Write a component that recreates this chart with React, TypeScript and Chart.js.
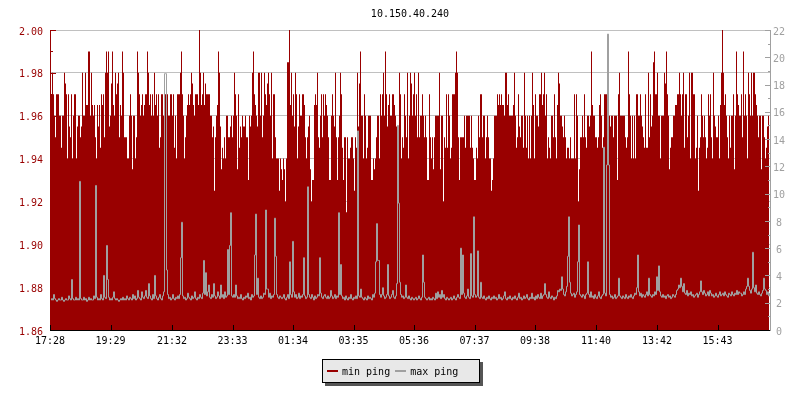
import React, { useEffect, useRef } from 'react';
import { Chart, registerables } from 'chart.js';

Chart.register(...registerables);

// ---------- data ----------
const chartTitle = '10.150.40.240';
const sampleMinutes = 2; // one sample every 2 minutes, starting 17:28
const spanMinutes = 1440;
const timeTickMinutes = [0, 121, 244, 365, 486, 607, 728, 849, 970, 1092, 1214, 1335];
const timeTickLabels = ['17:28', '19:29', '21:32', '23:33', '01:34', '03:35', '05:36', '07:37', '09:38', '11:40', '13:42', '15:43'];
const seriesNames = ['min ping', 'max ping'];

// min ping, 17:28 - 01:24
const minPingA = [
  1.97, 1.97, 1.98, 1.97, 1.96, 1.95, 1.97, 1.97, 1.97, 1.96,
  1.96, 1.945, 1.96, 1.96, 1.98, 1.975, 1.97, 1.94, 1.97, 1.955,
  1.95, 1.97, 1.94, 1.96, 1.97, 1.97, 1.94, 1.955, 1.96, 1.96,
  1.95, 1.955, 1.98, 1.96, 1.96, 1.98, 1.965, 1.965, 1.99, 1.99,
  1.96, 1.98, 1.965, 1.96, 1.965, 1.95, 1.94, 1.965, 1.955, 1.965,
  1.945, 1.97, 1.965, 1.97, 1.95, 1.98, 1.99, 1.98, 1.99, 1.955,
  1.96, 1.975, 1.99, 1.965, 1.96, 1.98, 1.97, 1.975, 1.98, 1.95,
  1.965, 1.96, 1.99, 1.98, 1.95, 1.95, 1.95, 1.94, 1.94, 1.96,
  1.97, 1.96, 1.935, 1.96, 1.96, 1.94, 1.95, 1.99, 1.98, 1.97,
  1.96, 1.965, 1.97, 1.96, 1.965, 1.97, 1.97, 1.99, 1.98, 1.965,
  1.97, 1.96, 1.97, 1.96, 1.98, 1.965, 1.97, 1.96, 1.97, 1.945,
  1.95, 1.97, 1.97, 1.96, 1.96, 1.97, 1.945, 1.97, 1.96, 1.96,
  1.97, 1.97, 1.96, 1.97, 1.945, 1.96, 1.94, 1.97, 1.97, 1.97,
  1.98, 1.99, 1.97, 1.96, 1.94, 1.95, 1.96, 1.965, 1.97, 1.965,
  1.97, 1.98, 1.975, 1.965, 1.96, 1.97, 1.97, 1.97, 1.965, 2.00,
  1.98, 1.965, 1.97, 1.98, 1.965, 1.975, 1.97, 1.97, 1.97, 1.97,
  1.96, 1.96, 1.95, 1.955, 1.925, 1.95, 1.96, 1.965, 1.99, 1.98,
  1.955, 1.935, 1.945, 1.94, 1.95, 1.94, 1.96, 1.96, 1.95, 1.95,
  1.955, 1.96, 1.95, 1.96, 1.98, 1.97, 1.96, 1.935, 1.97, 1.945,
  1.955, 1.95, 1.96, 1.955, 1.955, 1.96, 1.95, 1.95, 1.93, 1.96,
  1.955, 1.96, 1.98, 1.99, 1.97, 1.965, 1.96, 1.955, 1.98, 1.98,
  1.96, 1.98, 1.95, 1.96, 1.98, 1.97, 1.965, 1.975, 1.98, 1.97,
  1.96, 1.98, 1.94, 1.97, 1.97, 1.95, 1.94, 1.94, 1.94, 1.925,
  1.94, 1.935, 1.93, 1.94, 1.935, 1.92, 1.94, 1.985, 1.985,
];

// min ping, 01:26 - 09:26
const minPingB = [
  2.00, 1.965, 1.98, 1.96, 1.97, 1.955, 1.98, 1.97, 1.94, 1.955,
  1.97, 1.96, 1.96, 1.97, 1.97, 1.965, 1.95, 1.94, 1.95, 1.955,
  1.96, 1.935, 1.92, 1.93, 1.93, 1.965, 1.97, 1.965, 1.98, 1.95,
  1.945, 1.96, 1.97, 1.95, 1.97, 1.96, 1.97, 1.965, 1.96, 1.95,
  1.93, 1.93, 1.96, 1.97, 1.96, 1.955, 1.98, 1.95, 1.93, 1.95,
  1.96, 1.98, 1.97, 1.945, 1.93, 1.95, 1.95, 1.915, 1.95, 1.94,
  1.94, 1.945, 1.95, 1.95, 1.94, 1.925, 1.95, 1.945, 1.98, 1.955,
  1.975, 1.99, 1.96, 1.96, 1.94, 1.97, 1.96, 1.94, 1.945, 1.96,
  1.96, 1.96, 1.93, 1.93, 1.94, 1.935, 1.94, 1.95, 1.96, 1.96,
  1.94, 1.97, 1.96, 1.97, 1.98, 1.96, 1.99, 1.97, 1.955, 1.965,
  1.97, 1.96, 1.96, 1.97, 1.97, 1.965, 1.96, 1.955, 1.95, 1.955,
  1.98, 1.97, 1.94, 1.95, 1.945, 1.97, 1.96, 1.95, 1.98, 1.94,
  1.96, 1.98, 1.975, 1.96, 1.97, 1.98, 1.96, 1.97, 1.95, 1.98,
  1.95, 1.96, 1.96, 1.97, 1.96, 1.95, 1.96, 1.95, 1.93, 1.93,
  1.97, 1.95, 1.94, 1.95, 1.935, 1.95, 1.96, 1.96, 1.96, 1.96,
  1.98, 1.935, 1.96, 1.96, 1.92, 1.95, 1.945, 1.97, 1.945, 1.97,
  1.96, 1.94, 1.945, 1.97, 1.97, 1.97, 1.98, 1.99, 1.98, 1.95,
  1.93, 1.95, 1.95, 1.95, 1.95, 1.96, 1.945, 1.96, 1.96, 1.96,
  1.96, 1.945, 1.96, 1.945, 1.94, 1.93, 1.93, 1.945, 1.94, 1.96,
  1.95, 1.97, 1.97, 1.95, 1.96, 1.96, 1.94, 1.95, 1.96, 1.95,
  1.94, 1.94, 1.925, 1.93, 1.94, 1.96, 1.96, 1.96, 1.97, 1.965,
  1.97, 1.965, 1.97, 1.965, 1.965, 1.96, 1.98, 1.98, 1.965, 1.97,
  1.96, 1.96, 1.96, 1.96, 1.965, 1.98, 1.96, 1.945, 1.95, 1.97,
  1.955, 1.95, 1.96, 1.96, 1.945, 1.98, 1.96, 1.945, 1.96, 1.94,
  1.96,
];

// min ping, 09:28 - 17:26
const minPingC = [
  1.94, 1.96, 1.98, 1.965, 1.94, 1.97, 1.96, 1.96, 1.955, 1.97,
  1.97, 1.98, 1.965, 1.97, 1.98, 1.96, 1.97, 1.94, 1.95, 1.945,
  1.94, 1.96, 1.96, 1.95, 1.97, 1.95, 1.94, 1.965, 1.98, 1.975,
  1.96, 1.96, 1.955, 1.95, 1.96, 1.95, 1.94, 1.945, 1.945, 1.94,
  1.95, 1.94, 1.94, 1.94, 1.97, 1.94, 1.97, 1.96, 1.92, 1.935,
  1.95, 1.95, 1.96, 1.95, 1.97, 1.95, 1.945, 1.96, 1.96, 1.955,
  1.96, 1.99, 1.965, 1.96, 1.96, 1.95, 1.95, 1.945, 1.95, 1.965,
  1.97, 1.96, 1.945, 1.95, 1.97, 1.97, 1.97, 1.96, 1.955, 1.96,
  1.955, 1.96, 1.96, 1.95, 1.96, 1.96, 1.96, 1.93, 1.97, 1.98,
  1.96, 1.96, 1.96, 1.96, 1.96, 1.95, 1.945, 1.95, 1.99, 1.97,
  1.96, 1.94, 1.96, 1.94, 1.96, 1.94, 1.97, 1.97, 1.96, 1.96,
  1.97, 1.96, 1.955, 1.95, 1.945, 1.97, 1.945, 1.945, 1.98, 1.95,
  1.97, 1.955, 1.96, 1.985, 1.99, 1.97, 1.97, 1.98, 1.96, 1.96,
  1.94, 1.96, 1.96, 1.96, 1.98, 1.975, 1.99, 1.97, 1.96, 1.935,
  1.945, 1.95, 1.95, 1.96, 1.96, 1.965, 1.965, 1.97, 1.97, 1.98,
  1.97, 1.96, 1.97, 1.98, 1.945, 1.97, 1.97, 1.95, 1.96, 1.98,
  1.94, 1.98, 1.98, 1.97, 1.97, 1.94, 1.945, 1.96, 1.925, 1.945,
  1.95, 1.97, 1.96, 1.95, 1.96, 1.95, 1.94, 1.945, 1.97, 1.96,
  1.97, 1.95, 1.94, 1.98, 1.96, 1.955, 1.95, 1.95, 1.96, 1.94,
  1.965, 1.98, 2.00, 1.98, 1.965, 1.97, 1.96, 1.95, 1.94, 1.96,
  1.945, 1.96, 1.96, 1.97, 1.935, 1.96, 1.99, 1.97, 1.965, 1.96,
  1.96, 1.97, 1.95, 1.99, 1.96, 1.97, 1.96, 1.94, 1.98, 1.97,
  1.96, 1.98, 1.96, 1.98, 1.98, 1.97, 1.965, 1.96, 1.95, 1.96,
  1.96, 1.935, 1.96, 1.96, 1.95, 1.94, 1.945, 1.955, 1.96, 1.96,
];

// max ping, 17:28 - 01:26
const maxPingA = [
  2.2, 2.3, 2.2, 2.6, 2.3, 2.2, 2.1, 2.2, 2.3, 2.2, 2.2, 2.4, 2.2, 2.1, 2.2, 2.3, 2.2, 2.2, 2.5, 2.3, 2.2, 3.7, 2.3, 2.2, 2.2, 2.4, 2.2, 2.3, 2.2, 10.9,
  2.3, 2.2, 2.2, 2.4, 2.2, 2.3, 2.1, 2.2, 2.4, 2.2, 2.3, 2.2, 2.2, 2.5, 2.3, 10.6, 2.4, 2.2, 2.3, 2.2, 2.6, 2.3, 2.2, 4.0, 2.4, 2.3, 6.2, 3.7, 2.4, 2.2,
  2.3, 2.2, 2.4, 2.8, 2.3, 2.2, 2.3, 2.2, 2.1, 2.2, 2.3, 2.2, 2.4, 2.2, 2.3, 2.2, 2.5, 2.3, 2.2, 2.4, 2.3, 2.2, 2.6, 2.3, 2.5, 2.2, 2.3, 2.9, 2.4, 2.3,
  2.2, 2.8, 2.4, 2.3, 2.5, 2.9, 2.4, 2.3, 3.4, 2.5, 2.3, 2.2, 2.6, 2.3, 4.0, 2.5, 2.3, 2.2, 2.4, 2.6, 2.3, 2.2, 2.5, 2.8, 18.8, 18.8, 4.4, 2.6, 2.3, 2.4,
  2.2, 2.3, 2.6, 2.3, 2.2, 2.4, 2.3, 2.5, 2.3, 2.6, 5.3, 7.9, 2.5, 2.3, 2.4, 2.2, 2.3, 2.7, 2.4, 2.3, 2.2, 2.5, 2.3, 2.4, 2.8, 2.3, 2.2, 2.4, 2.3, 2.6,
  2.4, 2.3, 2.7, 5.1, 2.6, 4.2, 2.5, 2.8, 3.3, 2.4, 2.3, 2.6, 2.4, 3.4, 2.5, 2.3, 2.4, 2.8, 2.5, 2.3, 3.3, 2.4, 2.6, 2.3, 2.8, 2.4, 2.5, 5.9, 2.6, 6.2,
  8.6, 2.5, 2.4, 2.6, 2.4, 3.3, 2.5, 2.3, 2.4, 2.3, 2.6, 2.3, 2.2, 2.4, 2.3, 2.5, 2.4, 2.7, 2.3, 2.4, 2.2, 2.6, 2.4, 2.5, 5.5, 8.5, 2.6, 3.8, 2.4, 2.3,
  2.5, 2.3, 2.4, 2.7, 2.6, 8.8, 3.0, 3.0, 2.4, 2.7, 2.3, 2.5, 2.4, 2.6, 8.2, 5.4, 2.6, 2.4, 2.3, 2.5, 2.4, 2.3, 2.4, 2.6, 2.3, 2.2, 2.4, 2.6, 2.3, 5.0,
];

// max ping, 01:28 - 09:26
const maxPingB = [
  2.6, 2.4, 6.5, 2.8, 2.4, 2.6, 2.3, 2.4, 2.7, 2.3, 2.5, 2.4, 2.6, 5.3, 2.5, 2.3, 2.4, 10.5, 2.6, 2.4, 2.3, 2.6, 2.4, 2.2, 2.5, 2.3, 2.4, 2.6, 2.5, 5.3,
  2.7, 2.4, 2.3, 2.5, 2.6, 2.4, 2.3, 2.5, 2.3, 2.4, 2.9, 2.5, 2.3, 2.4, 2.6, 2.3, 2.5, 2.4, 8.6, 2.6, 4.8, 2.5, 2.3, 2.4, 2.2, 2.5, 2.3, 2.2, 2.4, 2.3,
  2.6, 2.3, 2.2, 2.4, 2.3, 2.5, 2.3, 14.6, 2.5, 2.4, 3.0, 2.4, 2.3, 2.2, 2.4, 2.3, 2.2, 2.5, 2.3, 2.4, 2.3, 2.2, 2.6, 2.4, 2.7, 5.0, 7.8, 5.1, 5.1, 2.6,
  2.4, 2.6, 3.1, 2.5, 2.3, 2.4, 2.6, 4.8, 2.5, 2.3, 2.4, 2.6, 2.9, 2.4, 2.3, 2.5, 3.4, 15.0, 9.3, 3.5, 2.6, 2.4, 2.5, 2.3, 2.4, 3.3, 2.4, 2.3, 2.5, 2.3,
  2.2, 2.4, 2.3, 2.2, 2.3, 2.4, 2.2, 2.3, 2.5, 2.3, 2.2, 2.4, 5.5, 3.5, 2.4, 2.3, 2.2, 2.3, 2.4, 2.2, 2.3, 2.2, 2.4, 2.3, 2.2, 2.7, 2.3, 2.8, 2.4, 2.6,
  2.3, 2.9, 2.4, 2.6, 2.3, 2.2, 2.4, 2.3, 2.2, 2.3, 2.4, 2.2, 2.3, 2.5, 2.3, 2.2, 2.4, 2.6, 2.4, 2.3, 6.0, 2.6, 5.5, 2.7, 2.4, 2.3, 2.5, 3.0, 2.4, 2.3,
  5.6, 2.5, 2.4, 8.3, 2.6, 2.4, 2.5, 5.8, 2.4, 2.3, 3.5, 2.4, 2.3, 2.5, 2.3, 2.2, 2.4, 2.3, 2.5, 2.3, 2.2, 2.4, 2.3, 2.5, 2.3, 2.4, 2.2, 2.3, 2.6, 2.3,
  2.4, 2.2, 2.3, 2.5, 2.8, 2.3, 2.2, 2.4, 2.3, 2.5, 2.3, 2.2, 2.4, 2.3, 2.5, 2.3, 2.2, 2.4, 2.7, 2.3, 2.4, 2.2, 2.3, 2.5, 2.3, 2.4, 2.6, 2.3, 2.2, 2.4,
];

// max ping, 09:28 - 17:26
const maxPingC = [
  2.3, 2.7, 2.3, 2.4, 2.2, 2.5, 2.3, 2.6, 2.4, 2.3, 2.7, 2.3, 2.5, 2.6, 3.4, 2.6, 2.4, 2.3, 2.8, 2.4, 2.3, 2.5, 2.4, 2.2, 2.4, 2.3, 2.5, 2.9, 2.8, 3.0,
  2.9, 3.9, 3.0, 2.6, 2.5, 2.8, 3.2, 5.4, 8.3, 3.5, 2.7, 2.5, 2.6, 2.7, 2.4, 2.6, 2.8, 5.0, 7.7, 2.6, 2.5, 2.4, 2.6, 2.5, 2.3, 2.6, 2.7, 5.0, 2.6, 2.4,
  2.8, 2.4, 2.5, 2.3, 2.6, 2.4, 2.3, 2.5, 2.8, 2.4, 2.3, 2.5, 2.6, 13.4, 2.7, 2.5, 12.1, 21.7, 12.1, 2.6, 2.4, 2.5, 2.3, 2.4, 2.6, 2.3, 2.4, 2.5, 3.8, 2.5,
  2.4, 2.3, 2.5, 2.4, 2.3, 2.6, 2.4, 2.3, 2.5, 2.4, 2.6, 2.4, 2.3, 2.5, 2.7, 2.6, 3.1, 5.5, 2.8, 2.5, 2.7, 2.4, 2.6, 2.5, 2.4, 2.6, 2.8, 2.5, 3.8, 2.6,
  2.5, 2.4, 2.6, 2.5, 2.8, 2.6, 3.9, 2.9, 4.7, 2.8, 2.5, 2.4, 2.6, 2.4, 2.5, 2.3, 2.5, 2.6, 2.4, 2.5, 2.3, 2.4, 2.6, 2.5, 2.4, 2.6, 2.9, 3.0, 3.3, 3.1,
  3.8, 3.2, 2.8, 3.4, 2.7, 2.6, 2.9, 2.5, 2.7, 2.6, 2.8, 2.5, 2.6, 2.4, 2.5, 2.6, 2.7, 2.4, 2.6, 2.8, 3.6, 2.8, 2.6, 2.9, 2.7, 2.5, 2.6, 2.8, 2.5, 2.9,
  2.7, 2.5, 2.6, 2.4, 2.5, 2.7, 2.5, 2.4, 2.6, 2.8, 2.5, 2.6, 2.7, 2.5, 2.8, 2.6, 2.5, 2.4, 2.7, 2.6, 2.5, 2.8, 2.6, 2.5, 2.7, 2.6, 2.9, 2.6, 2.8, 2.7,
  2.7, 2.5, 2.6, 2.8, 2.6, 3.0, 3.2, 3.8, 3.2, 2.9, 2.7, 3.0, 5.7, 3.1, 2.8, 3.3, 2.7, 2.6, 2.8, 2.6, 2.5, 2.7, 2.9, 3.8, 3.0, 2.9, 2.6, 2.8, 2.5, 2.7,
];

// ---------- styles ----------
const RED = '#990000';
const GREY = '#a0a0a0';
const GRID = '#c0c0c0';
const FONT = "'DejaVu Sans Mono', 'Liberation Mono', monospace";

const minPing = [...minPingA, ...minPingB, ...minPingC];
const maxPing = [...maxPingA, ...maxPingB, ...maxPingC];

const axisFrame = {
  id: 'axisFrame',
  afterDatasetsDraw(chart: any) {
    const { ctx, chartArea: a, scales } = chart;
    const y = scales.y;
    const y1 = scales.y1;
    const x = scales.x;
    ctx.save();
    ctx.lineWidth = 1;

    // left axis (min ping)
    ctx.strokeStyle = RED;
    ctx.beginPath();
    ctx.moveTo(a.left + 0.5, a.top);
    ctx.lineTo(a.left + 0.5, a.bottom);
    const lsteps = Math.round((y.max - y.min) / 0.01);
    for (let k = 0; k <= lsteps; k++) {
      const v = y.min + k * 0.01;
      const py = Math.round(y.getPixelForValue(v)) + 0.5;
      const len = k % 2 === 0 ? 6 : 3;
      ctx.moveTo(a.left, py);
      ctx.lineTo(a.left + len, py);
    }
    ctx.stroke();

    // right axis (max ping)
    ctx.strokeStyle = GREY;
    ctx.beginPath();
    ctx.moveTo(a.right + 0.5, a.top);
    ctx.lineTo(a.right + 0.5, a.bottom + 1);
    for (let k = y1.min; k <= y1.max; k++) {
      const py = Math.round(y1.getPixelForValue(k)) + 0.5;
      const len = k % 2 === 0 ? 6 : 3;
      ctx.moveTo(a.right + 1, py);
      ctx.lineTo(a.right + 1 - len, py);
    }
    ctx.stroke();

    // bottom axis (time)
    ctx.strokeStyle = '#000';
    ctx.beginPath();
    ctx.moveTo(a.left, a.bottom + 0.5);
    ctx.lineTo(a.right, a.bottom + 0.5);
    timeTickMinutes.forEach((m) => {
      const px = Math.round(x.getPixelForValue(m)) + 0.5;
      ctx.moveTo(px, a.bottom);
      ctx.lineTo(px, a.bottom - 5);
    });
    ctx.stroke();
    ctx.restore();
  },
};

export default function App() {
  const canvasRef = useRef<HTMLCanvasElement | null>(null);

  useEffect(() => {
    const canvas = canvasRef.current;
    if (!canvas) return;
    Chart.defaults.font.family = FONT;
    Chart.defaults.font.size = 10;
    Chart.defaults.color = '#000';

    const chart = new Chart(canvas, {
      type: 'line',
      data: {
        datasets: [
          {
            label: seriesNames[1],
            data: maxPing.map((v, i) => ({ x: i * sampleMinutes + sampleMinutes / 2, y: v })),
            yAxisID: 'y1',
            borderColor: GREY,
            backgroundColor: GREY,
            borderWidth: 1,
            pointRadius: 0,
            stepped: true,
            fill: false,
            order: 0,
          },
          {
            label: seriesNames[0],
            data: minPing.map((v, i) => ({ x: i * sampleMinutes, y: v })),
            yAxisID: 'y',
            borderColor: 'rgba(0,0,0,0)',
            backgroundColor: RED,
            borderWidth: 1,
            pointRadius: 0,
            stepped: true,
            fill: 'start',
            order: 1,
          },
        ],
      },
      options: {
        animation: false,
        responsive: false,
        devicePixelRatio: 1,
        events: [],
        layout: { padding: 0 },
        plugins: {
          legend: { display: false },
          tooltip: { enabled: false },
          title: {
            display: true,
            text: chartTitle,
            fullSize: false,
            color: '#000',
            font: { family: FONT, size: 10, weight: 'normal' },
            padding: { top: 8, bottom: 10 },
          },
        },
        scales: {
          x: {
            type: 'linear',
            min: 0,
            max: spanMinutes,
            grid: { display: false, drawTicks: false },
            border: { display: false },
            afterBuildTicks: (scale: any) => {
              scale.ticks = timeTickMinutes.map((m) => ({ value: m }));
            },
            afterFit: (scale: any) => {
              scale.height = 70;
            },
            ticks: {
              autoSkip: false,
              maxRotation: 0,
              minRotation: 0,
              padding: 5,
              color: '#000',
              font: { family: FONT, size: 10 },
              callback: (value: any) => {
                const idx = timeTickMinutes.indexOf(Number(value));
                return idx >= 0 ? timeTickLabels[idx] : '';
              },
            },
          },
          y: {
            type: 'linear',
            position: 'left',
            min: 1.86,
            max: 2.0,
            grid: { color: GRID, drawTicks: false },
            border: { display: false },
            afterFit: (scale: any) => {
              scale.width = 50;
            },
            ticks: {
              stepSize: 0.02,
              padding: 7,
              labelOffset: 2,
              color: RED,
              font: { family: FONT, size: 10 },
              callback: (value: any) => Number(value).toFixed(2),
            },
          },
          y1: {
            type: 'linear',
            position: 'right',
            min: 0,
            max: 22,
            grid: { drawOnChartArea: false, drawTicks: false },
            border: { display: false },
            afterFit: (scale: any) => {
              scale.width = 30;
            },
            ticks: {
              stepSize: 2,
              padding: 3,
              labelOffset: 2,
              crossAlign: 'center',
              color: GREY,
              font: { family: FONT, size: 10 },
            },
          },
        },
      },
      plugins: [axisFrame],
    } as any);

    return () => {
      chart.destroy();
    };
  }, []);

  const swatch = (color: string): React.CSSProperties => ({
    display: 'inline-block',
    width: 11,
    height: 2,
    background: color,
    marginRight: 4,
  });

  return (
    <div style={{ position: 'absolute', left: 0, top: 0, width: 800, height: 400, background: '#fff' }}>
      <canvas ref={canvasRef} width={800} height={400} style={{ position: 'absolute', left: 0, top: 0, width: 800, height: 400 }} />
      <div
        style={{
          position: 'absolute',
          left: 322,
          top: 359,
          width: 152,
          height: 22,
          border: '1px solid #000',
          background: '#e8e8e8',
          boxShadow: '3px 3px 0 #555',
          display: 'flex',
          alignItems: 'center',
          paddingLeft: 4,
          boxSizing: 'content-box',
          fontFamily: FONT,
          fontSize: 10,
          color: '#000',
          whiteSpace: 'nowrap',
        }}
      >
        <span style={swatch(RED)} />
        <span style={{ marginRight: 5 }}>{seriesNames[0]}</span>
        <span style={swatch(GREY)} />
        <span>{seriesNames[1]}</span>
      </div>
    </div>
  );
}
